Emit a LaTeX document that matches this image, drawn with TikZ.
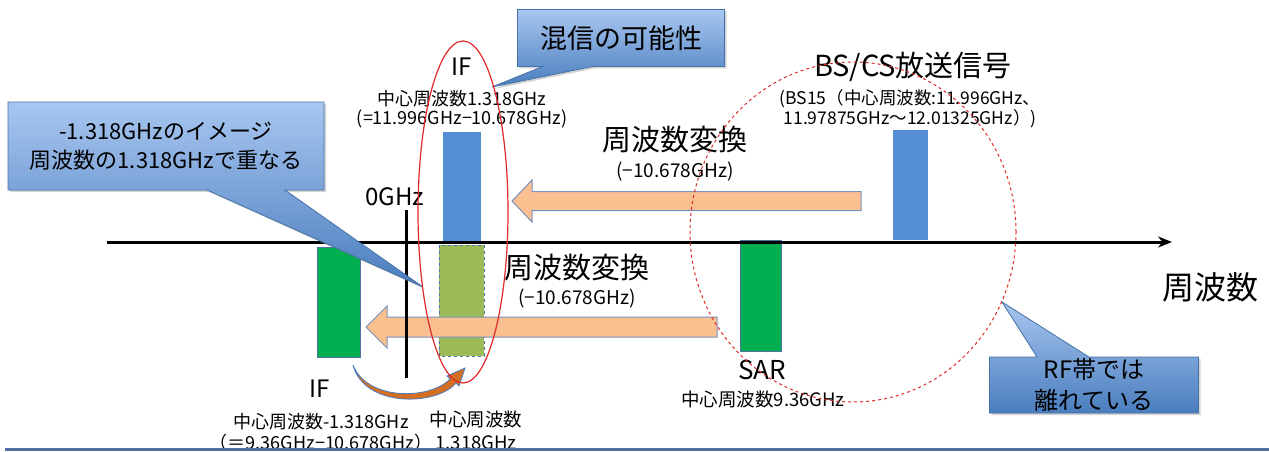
\documentclass[tikz,border=0pt]{standalone}
\usepackage{fontspec}
\setmainfont{Noto Sans CJK JP}
\usepackage{tikz}
\usetikzlibrary{positioning,arrows.meta,shapes.callouts,shadows}
\definecolor{barblue}{RGB}{85,142,213}
\definecolor{bargreen}{RGB}{0,176,80}
\definecolor{barolive}{RGB}{155,187,89}
\definecolor{barline}{RGB}{80,115,165}
\definecolor{arrowfill}{RGB}{250,192,144}
\definecolor{arrowline}{RGB}{120,145,190}
\definecolor{calltop}{RGB}{168,198,240}
\definecolor{callbot}{RGB}{74,126,190}
\definecolor{callline}{RGB}{70,115,168}
\definecolor{crescent}{RGB}{212,110,35}
\definecolor{rfred}{RGB}{225,40,40}
\definecolor{rulecolor}{RGB}{80,110,158}
\newcommand{\sz}[2]{\fontsize{#1pt}{#2pt}\selectfont}

\begin{document}
\begin{tikzpicture}[x=1pt,y=-1pt,
  bar/.style={draw=barline,line width=0.8pt},
  bigarrow/.style={fill=arrowfill,draw=arrowline,line width=1pt},
  callbox/.style={rectangle callout,draw=callline,line width=0.8pt,
    top color=calltop,bottom color=callbot,align=center,inner sep=0pt,
    drop shadow={opacity=0.35,shadow xshift=2pt,shadow yshift=-2pt}},
  lbl/.style={inner sep=0pt,align=center}]
\useasboundingbox (0,0) rectangle (1269,452);
% bars
\fill[barblue] (443,132) rectangle (481,242);
\fill[barblue] (893,130) rectangle (928,240);
\draw[bar,fill=bargreen] (317,247) rectangle (360,357);
\draw[bar,fill=bargreen] (740,240) rectangle (781,351);
\draw[bar,fill=barolive,dashed] (439,245) rectangle (484,356);
% frequency axis
\coordinate (ax0) at (107,242);
\coordinate (ax1) at (1172,242);
\draw[line width=3pt,-{Stealth[length=14pt,width=11pt]}] (ax0) -- (ax1);
% conversion arrows
\draw[bigarrow] (861,191.5) -- (532,191.5) -- (532,180) -- (512,201)
  -- (532,222) -- (532,210.5) -- (861,210.5) -- cycle;
\draw[bigarrow] (717,317) -- (387,317) -- (387,306) -- (366,327)
  -- (387,348) -- (387,337) -- (717,337) -- cycle;
% 0GHz line
\coordinate (z0) at (406,210);
\coordinate (z1) at (406,378);
\draw[line width=3pt] (z0) -- (z1);
\node[lbl,font=\sz{24}{24}] (zero) at (395,197) {0GHz};
% image fold arrow
\draw[draw=callbot,fill=crescent,line width=0.8pt] (353,365)
  .. controls (364,408) and (437,406) .. (456,383) -- (459,386)
  -- (465,368) -- (447,376) -- (450,379)
  .. controls (430,400) and (367,401) .. (353,365) -- cycle;
% labels
\node[lbl,font=\sz{24}{24}] (ifup) at (462,67) {IF};
\node[lbl,font=\sz{18}{19}] (ifupf) at (462,109) {中心周波数1.318GHz\\(=11.996GHz−10.678GHz)};
\node[lbl,font=\sz{29}{29}] (bscs) at (913,67) {BS/CS放送信号};
\node[lbl,font=\sz{17.5}{20}] (bscsf) at (910,109) {(BS15（中心周波数:11.996GHz、\\11.97875GHz〜12.01325GHz）)};
\node[lbl,font=\sz{29}{29}] (conv1) at (675,140) {周波数変換};
\node[lbl,font=\sz{19}{19}] (conv1f) at (675,172) {(−10.678GHz)};
\node[lbl,font=\sz{29}{29}] (conv2) at (577,268) {周波数変換};
\node[lbl,font=\sz{19}{19}] (conv2f) at (577,299) {(−10.678GHz)};
\node[lbl,font=\sz{32}{32}] (freq) at (1210,287) {周波数};
\node[lbl,font=\sz{26}{26}] (sar) at (762,370) {SAR};
\node[lbl,font=\sz{18.5}{18.5}] (sarf) at (763,400) {中心周波数9.36GHz};
\node[lbl,font=\sz{24}{24}] (iflow) at (320,389) {IF};
\node[lbl,font=\sz{18}{21}] (iflowf) at (321,432) {中心周波数-1.318GHz\\（＝9.36GHz−10.678GHz）};
\node[lbl,font=\sz{18.5}{23}] (imgf) at (476,430) {中心周波数\\1.318GHz};
% callouts
\node[callbox,minimum width=316pt,minimum height=88pt,font=\sz{22}{29},
  callout pointer width=78pt,callout absolute pointer={(423,287)}]
  (imgnote) at (166,146) {-1.318GHzのイメージ\\周波数の1.318GHzで重なる};
\node[callbox,minimum width=207pt,minimum height=57pt,font=\sz{27}{27},
  callout pointer width=50pt,callout absolute pointer={(492,87)}]
  (mixnote) at (621,38) {混信の可能性};
\node[callbox,minimum width=209pt,minimum height=56pt,font=\sz{24}{31},
  callout pointer width=52pt,callout absolute pointer={(1002,302)}]
  (rfnote) at (1094,385) {RF帯では\\離れている};
% interference regions
\draw[rfred,line width=1.2pt] (463,212) ellipse [x radius=45pt,y radius=171pt];
\draw[rfred,line width=1pt,dashed] (853,232) ellipse [x radius=163pt,y radius=170pt];
% bottom rule
\draw[rulecolor,line width=3pt] (5,449) -- (1269,449);
\end{tikzpicture}
\end{document}
